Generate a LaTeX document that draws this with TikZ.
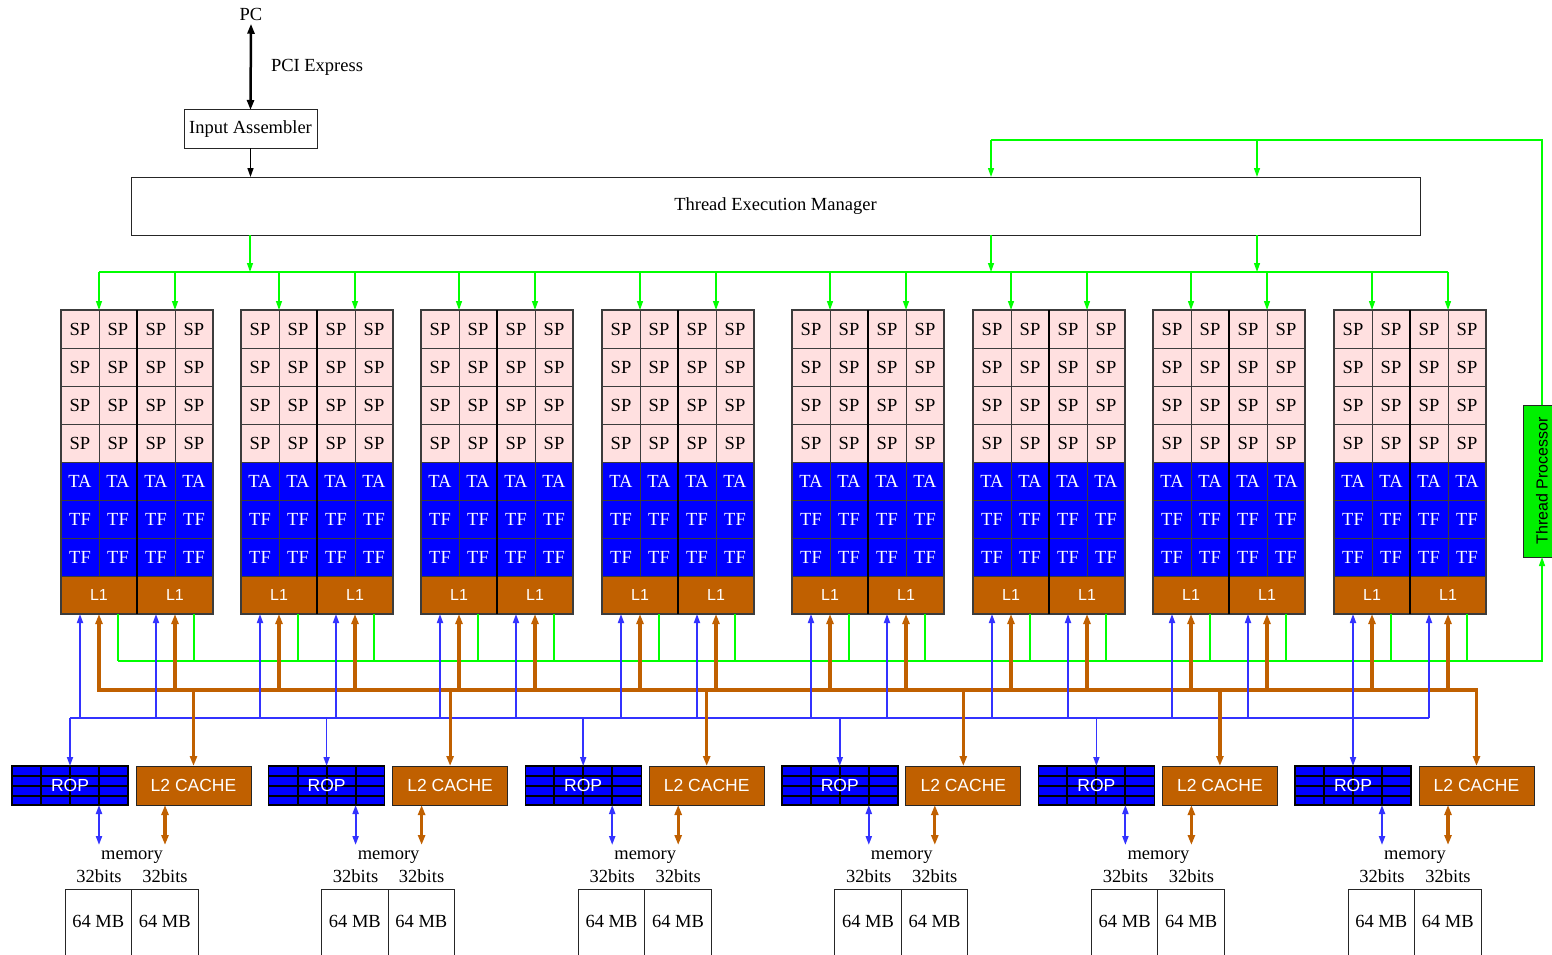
\documentclass[tikz,border=0pt]{standalone}
\usepackage{fontspec}
\setmainfont{Liberation Serif}
\newfontfamily\lsans{Liberation Sans}
\usetikzlibrary{arrows.meta,calc}
\definecolor{sppink}{RGB}{255,224,224}
\definecolor{tblue}{RGB}{0,0,255}
\definecolor{lorange}{RGB}{192,96,0}
\definecolor{lblue}{RGB}{51,51,255}
\definecolor{gline}{RGB}{0,255,0}
\definecolor{tpgreen}{RGB}{0,240,0}
\definecolor{cellborder}{RGB}{60,60,60}
\tikzset{
  cell/.style={draw=cellborder, line width=0.9pt, minimum width=38pt, minimum height=38pt,
    inner sep=0pt, outer sep=0pt, anchor=north west},
  spcell/.style={cell, fill=sppink},
  tcell/.style={cell, fill=tblue, text=white},
  lonecell/.style={cell, fill=lorange, text=white, minimum width=76pt, font=\lsans\fontsize{16}{18}\selectfont},
  plainbox/.style={draw=black!85, line width=1pt, inner sep=0pt, outer sep=0pt},
  ropbox/.style={draw=black, line width=1.4pt, fill=tblue, minimum width=116pt, minimum height=39pt,
    inner sep=0pt, outer sep=0pt, anchor=north west},
  ropgrid/.style={draw=black, line width=2pt},
  ltwobox/.style={draw=black!85, line width=1pt, fill=lorange, text=white, minimum width=115pt,
    minimum height=39pt, inner sep=0pt, outer sep=0pt, anchor=north west, font=\lsans\fontsize{17.5}{20}\selectfont},
  membox/.style={draw=black!85, line width=1pt, minimum width=66.5pt, minimum height=80pt,
    inner sep=0pt, outer sep=0pt, anchor=north west},
  gl/.style={draw=gline, line width=1.3pt},
  garrow/.style={gl, -{Triangle[length=9pt,width=6pt]}},
  bl/.style={draw=lblue, line width=1.7pt},
  barrow/.style={bl, -{Triangle[length=9pt,width=6pt]}},
  bdarrow/.style={bl, line width=2pt, {Triangle[length=9pt,width=6pt]}-{Triangle[length=9pt,width=6pt]}},
  ol/.style={draw=lorange, line width=3.2pt},
  oarrow/.style={ol, -{Triangle[length=10pt,width=7pt]}},
  odarrow/.style={ol, {Triangle[length=10pt,width=7pt]}-{Triangle[length=10pt,width=7pt]}},
  karrow/.style={draw=black, line width=1.5pt, -{Triangle[length=9pt,width=6pt]}},
  kdarrow/.style={draw=black, line width=2.5pt, {Triangle[length=10pt,width=7pt]}-{Triangle[length=10pt,width=7pt]}},
}
\begin{document}
\begin{tikzpicture}[x=1pt, y=-1pt, font=\fontsize{18.5}{21}\selectfont]
\useasboundingbox (0,0) rectangle (1552,955);
\fill[white] (0,0) rectangle (1552,955);

% top part
\node (pc) at (251,14) {PC};
\node[plainbox, minimum width=133pt, minimum height=38pt] (ia) at (250.5,129) {Input Assembler};
\node (pcie) at (317,67) {PCI Express};
\draw[kdarrow] (pc.south) -- (ia.north);
\node[plainbox, minimum width=1289pt, minimum height=58pt] (tem) at (775.5,206) {Thread Execution Manager};
\draw[karrow] (ia.south) -- (ia.south |- tem.north);

% thread processor
\node[draw=black!85, line width=1pt, fill=tpgreen, rotate=90, minimum width=152pt, minimum height=38pt,
  inner sep=0pt, outer sep=0pt, font=\lsans\fontsize{16}{18}\selectfont] (tp) at (1542,481) {Thread Processor};

% clusters
\foreach \c/\L in {1/61,2/241,3/421,4/602,5/792,6/973,7/1153,8/1334}{
  \foreach \h in {0,1}{
    \pgfmathsetmacro\hx{\L+76*\h}
    \foreach \k in {0,1}{
      \pgfmathsetmacro\kx{\hx+38*\k}
      \foreach \r in {0,1,2,3}{
        \node[spcell] (c-\c-\h-\k-\r) at (\kx,{310+38*\r}) {SP};
      }
      \node[tcell] (c-\c-\h-\k-4) at (\kx,462) {TA};
      \node[tcell] (c-\c-\h-\k-5) at (\kx,500) {TF};
      \node[tcell] (c-\c-\h-\k-6) at (\kx,538) {TF};
    }
    \node[lonecell] (l1-\c-\h) at (\hx,576) {L1};
    \coordinate (gt-\c-\h) at ({\hx+38},272);
    \coordinate (ob-\c-\h) at ({\hx+38},690);
    \coordinate (bb-\c-\h) at ({\hx+19},718);
    \coordinate (gr-\c-\h) at ({\hx+57},661);
  }
  \draw[draw=cellborder, line width=1.6pt] (c-\c-0-0-0.north west) rectangle (l1-\c-1.south east);
  \draw[black, line width=2.6pt] (c-\c-1-0-0.north west) -- (l1-\c-1.south west);
}

% green distribution from TEM
\coordinate (gb1) at (250,272);
\coordinate (gb2) at (991,272);
\coordinate (gb3) at (1257,272);
\coordinate (gtop1) at (991,140);
\coordinate (gtop2) at (1257,140);
\draw[gl] (gt-1-0) -- (gt-8-1);
\foreach \i in {1,2,3}{ \draw[garrow] (gb\i |- tem.south) -- (gb\i); }
\draw[gl] (tp.east) -- (tp.east |- gtop1) -- (gtop1);
\draw[garrow] (gtop1) -- (gtop1 |- tem.north);
\draw[garrow] (gtop2) -- (gtop2 |- tem.north);

% memory partitions
\foreach \g in {1,...,6}{
  \pgfmathsetmacro\rx{12+256.6*(\g-1)}
  \node[ropbox] (rop-\g) at (\rx,766) {};
  \path (rop-\g.north west) ++(0,10) coordinate (rh1-\g) ++(0,10) coordinate (rh2-\g) ++(0,10) coordinate (rh3-\g);
  \path (rop-\g.north west) ++(29,0) coordinate (rv1-\g) ++(29,0) coordinate (rv2-\g) ++(29,0) coordinate (rv3-\g);
  \foreach \n in {1,2,3}{
    \draw[ropgrid] (rh\n-\g) -- (rh\n-\g -| rop-\g.east);
    \draw[ropgrid] (rv\n-\g) -- (rv\n-\g |- rop-\g.south);
  }
  \node[text=white, font=\lsans\fontsize{17.5}{20}\selectfont, inner sep=0pt] (ropt-\g) at (rop-\g.center) {ROP};
  \node[ltwobox] (l2-\g) at ({\rx+124},766) {L2 CACHE};
  \node[membox] (mema-\g) at ({\rx+53},889) {};
  \node[membox] (memb-\g) at ({\rx+119.5},889) {};
  \node (ma-\g) at ([yshift=-32pt]mema-\g.north) {64 MB};
  \node (mb-\g) at ([yshift=-32pt]memb-\g.north) {64 MB};
  \node (memt-\g) at ({\rx+120},857) {memory};
  \node (bita-\g) at ({\rx+87},876) {32bits};
  \node (bitb-\g) at ({\rx+153},876) {32bits};
  \coordinate (rm-\g) at ({\rx+87},845);
  \coordinate (lm-\g) at ({\rx+153},845);
  \draw[bdarrow] (rm-\g |- rop-\g.south) -- (rm-\g);
  \draw[odarrow] (lm-\g |- l2-\g.south) -- (lm-\g);
}

% buses below clusters
\draw[gl] (gr-1-0) -- (gr-8-1);
\draw[garrow] (gr-8-1) -- (gr-8-1 -| tp.east) -- (tp.west);
\draw[bl] (bb-1-0 -| rop-1.north) -- (bb-8-1);
\draw[ol, line cap=rect] (ob-1-0) -- (ob-1-0 -| l2-6.north);
\foreach \g in {1,...,6}{
  \draw[barrow] (bb-1-0 -| rop-\g.north) -- (rop-\g.north);
  \draw[oarrow] (ob-1-0 -| l2-\g.north) -- (l2-\g.north);
}
\foreach \c in {1,...,8}{
  \foreach \h in {0,1}{
    \draw[garrow] (gt-\c-\h) -- (c-\c-\h-0-0.north east);
    \draw[gl] (c-\c-\h-1-0 |- l1-\c-\h.south) -- (gr-\c-\h);
    \draw[barrow] (bb-\c-\h) -- (c-\c-\h-0-0 |- l1-\c-\h.south);
    \draw[oarrow] (ob-\c-\h) -- (l1-\c-\h.south);
  }
}
\end{tikzpicture}
\end{document}
